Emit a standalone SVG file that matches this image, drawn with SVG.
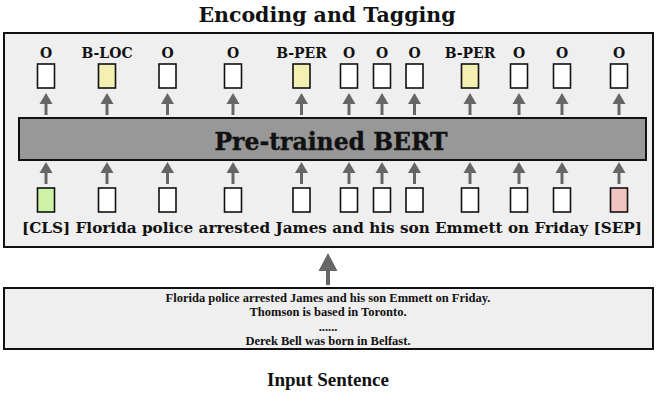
<svg xmlns="http://www.w3.org/2000/svg" width="657" height="404" viewBox="0 0 657 404">
<defs>
<style>
.t{font-family:"DejaVu Serif","Liberation Serif",serif;font-weight:bold;fill:#111;text-anchor:middle}
.b{font-family:"Liberation Serif","Times New Roman",serif;font-weight:bold;fill:#111;text-anchor:middle}
.tok{stroke:#111;stroke-width:1.6}
.w{fill:#fff}.y{fill:#f4efb2}.g{fill:#cdf2a8}.p{fill:#f1c5bf}
.sh{stroke:#666;stroke-width:3;fill:none}
.hd{fill:#666}
</style>
<g id="ua"><line class="sh" x1="0" y1="8" x2="0" y2="22"/><polygon class="hd" points="0,0 6.5,11 -6.5,11"/></g>
</defs>
<rect width="657" height="404" fill="#fff"/>
<text class="t" x="327" y="22" font-size="20.5">Encoding and Tagging</text>
<g id="encoder-frame"><rect x="4" y="33" width="649" height="214" fill="#efefef" stroke="#111" stroke-width="2"/></g>
<g id="bert"><rect x="19" y="118" width="627" height="42" fill="#989898" stroke="#111" stroke-width="2"/>
<text class="t" x="331" y="150" font-size="23.5" stroke="#111" stroke-width="0.4">Pre-trained BERT</text></g>
<g id="tags" class="t" font-size="14">
<text x="46" y="58">O</text><text x="107" y="58">B-LOC</text><text x="167.5" y="58">O</text><text x="233" y="58">O</text><text x="301.5" y="58">B-PER</text><text x="349" y="58">O</text><text x="382" y="58">O</text><text x="414.5" y="58">O</text><text x="470" y="58">B-PER</text><text x="519" y="58">O</text><text x="562" y="58">O</text><text x="619" y="58">O</text>
</g>
<g id="output-tokens" class="tok">
<rect class="w" x="37.5" y="64" width="17" height="24"/><rect class="y" x="98.5" y="64" width="17" height="24"/><rect class="w" x="159" y="64" width="17" height="24"/><rect class="w" x="224.5" y="64" width="17" height="24"/><rect class="y" x="293" y="64" width="17" height="24"/><rect class="w" x="340.5" y="64" width="17" height="24"/><rect class="w" x="373.5" y="64" width="17" height="24"/><rect class="w" x="406" y="64" width="17" height="24"/><rect class="y" x="461.5" y="64" width="17" height="24"/><rect class="w" x="510.5" y="64" width="17" height="24"/><rect class="w" x="553.5" y="64" width="17" height="24"/><rect class="w" x="610.5" y="64" width="17" height="24"/>
</g>
<g id="input-tokens" class="tok">
<rect class="g" x="37.5" y="188" width="17" height="24"/><rect class="w" x="98.5" y="188" width="17" height="24"/><rect class="w" x="159" y="188" width="17" height="24"/><rect class="w" x="224.5" y="188" width="17" height="24"/><rect class="w" x="293" y="188" width="17" height="24"/><rect class="w" x="340.5" y="188" width="17" height="24"/><rect class="w" x="373.5" y="188" width="17" height="24"/><rect class="w" x="406" y="188" width="17" height="24"/><rect class="w" x="461.5" y="188" width="17" height="24"/><rect class="w" x="510.5" y="188" width="17" height="24"/><rect class="w" x="553.5" y="188" width="17" height="24"/><rect class="p" x="610.5" y="188" width="17" height="24"/>
</g>
<text id="token-words" class="t" x="332" y="233" font-size="15" textLength="620" lengthAdjust="spacingAndGlyphs">[CLS] Florida police arrested James and his son Emmett on Friday [SEP]</text>
<g id="connectors">
<use href="#ua" x="46" y="93"/><use href="#ua" x="107" y="93"/><use href="#ua" x="167.5" y="93"/><use href="#ua" x="233" y="93"/><use href="#ua" x="301.5" y="93"/><use href="#ua" x="349" y="93"/><use href="#ua" x="382" y="93"/><use href="#ua" x="414.5" y="93"/><use href="#ua" x="470" y="93"/><use href="#ua" x="519" y="93"/><use href="#ua" x="562" y="93"/><use href="#ua" x="619" y="93"/>
<use href="#ua" x="46" y="162"/><use href="#ua" x="107" y="162"/><use href="#ua" x="167.5" y="162"/><use href="#ua" x="233" y="162"/><use href="#ua" x="301.5" y="162"/><use href="#ua" x="349" y="162"/><use href="#ua" x="382" y="162"/><use href="#ua" x="414.5" y="162"/><use href="#ua" x="470" y="162"/><use href="#ua" x="519" y="162"/><use href="#ua" x="562" y="162"/><use href="#ua" x="619" y="162"/>
<line x1="328" y1="266" x2="328" y2="285" stroke="#666" stroke-width="4"/><polygon points="328,253 337.5,271 318.5,271" fill="#666"/>
</g>
<g id="input-sentence"><rect x="4" y="288" width="649" height="61" fill="#efefef" stroke="#111" stroke-width="2"/>
<g class="b" font-size="12.5">
<text x="328" y="302">Florida police arrested James and his son Emmett on Friday.</text>
<text x="328" y="316">Thomson is based in Toronto.</text>
<text x="328" y="331">......</text>
<text x="328" y="345">Derek Bell was born in Belfast.</text>
</g></g>
<text class="b" x="328" y="386" font-size="19">Input Sentence</text>
</svg>
